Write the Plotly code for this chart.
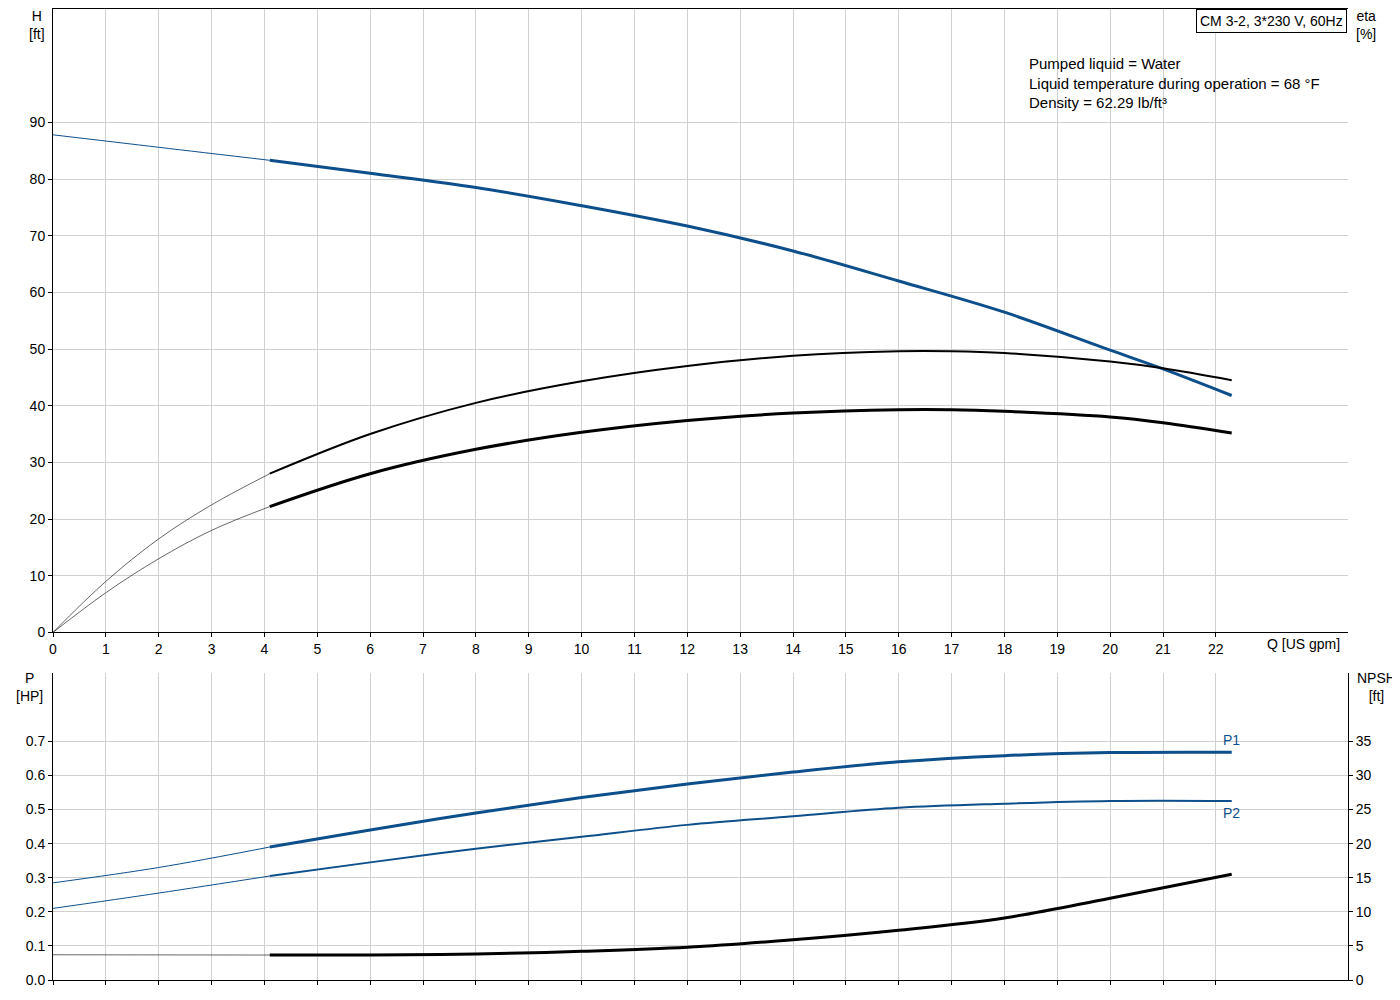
import plotly.graph_objects as go

BLUE = "#0d4f8b"
# Head curve
q_h_thin = [0, 2, 4.1]
h_thin = [87.8, 85.6, 83.3]
q_h = [4.1, 6, 8, 10, 12, 14, 16, 18, 20, 21, 22.3]
h = [83.3, 81.0, 78.5, 75.3, 71.7, 67.3, 62.0, 56.5, 49.8, 46.5, 41.8]
# Efficiency curves
q_e_thin = [0, 1, 2, 3, 4.1]
eta1_thin = [0, 9, 16.5, 22.5, 28]
eta2_thin = [0, 7, 13, 18, 22.2]
q_e = [4.1, 6, 8, 10, 12, 14, 16, 17, 18, 20, 21, 22.3]
eta1 = [28, 35, 40.5, 44.3, 47, 48.8, 49.6, 49.6, 49.3, 47.8, 46.6, 44.5]
eta2 = [22.2, 28, 32.3, 35.3, 37.4, 38.7, 39.3, 39.3, 39.0, 38.0, 37.0, 35.2]
# Power curves
q_p_thin = [0, 2, 4.1]
p1_thin = [0.285, 0.33, 0.39]
p2_thin = [0.21, 0.255, 0.305]
q_p = [4.1, 6, 8, 10, 12, 14, 16, 18, 20, 22.3]
p1 = [0.39, 0.44, 0.49, 0.535, 0.575, 0.61, 0.64, 0.658, 0.667, 0.668]
p2 = [0.305, 0.345, 0.385, 0.42, 0.455, 0.48, 0.505, 0.517, 0.525, 0.525]
# NPSH
q_n_thin = [0, 2, 4.1]
npsh_thin = [3.7, 3.68, 3.66]
q_n = [4.1, 6, 8, 10, 12, 14, 16, 18, 20, 22.3]
npsh = [3.66, 3.66, 3.8, 4.2, 4.8, 5.9, 7.3, 9.1, 12.0, 15.5]

fig = go.Figure()
def add(x, y, color, w, xa, ya):
    fig.add_trace(go.Scatter(x=x, y=y, mode="lines", line=dict(color=color, width=w, shape="spline", smoothing=1.0),
                             xaxis=xa, yaxis=ya, showlegend=False, hoverinfo="skip"))
add(q_h_thin, h_thin, BLUE, 1, "x", "y")
add(q_h, h, BLUE, 3, "x", "y")
add(q_e_thin, eta1_thin, "black", 0.6, "x", "y")
add(q_e, eta1, "black", 2, "x", "y")
add(q_e_thin, eta2_thin, "black", 0.6, "x", "y")
add(q_e, eta2, "black", 3, "x", "y")
add(q_p_thin, p1_thin, BLUE, 1, "x2", "y2")
add(q_p, p1, BLUE, 3, "x2", "y2")
add(q_p_thin, p2_thin, BLUE, 1, "x2", "y2")
add(q_p, p2, BLUE, 2, "x2", "y2")
add(q_n_thin, npsh_thin, "black", 0.6, "x2", "y3")
add(q_n, npsh, "black", 3, "x2", "y3")

ax = dict(showgrid=True, gridcolor="#d0d0d0", gridwidth=1, zeroline=False, showline=True,
          linecolor="black", linewidth=1, ticks="outside", ticklen=4, tickcolor="black",
          automargin=False,
          tickfont=dict(family="Arial, Liberation Sans", size=14, color="black"))
fig.update_layout(
    width=1400, height=1000, plot_bgcolor="white", paper_bgcolor="white",
    margin=dict(l=45, r=60, t=1, b=28, autoexpand=False),
    xaxis=dict(ax, range=[0, 24.5], domain=[0, 1], anchor="y",
               tickvals=list(range(23)), mirror=True),
    yaxis=dict(ax, range=[0, 110], tickvals=list(range(0, 100, 10)), domain=[0.358, 1], anchor="x"),
    yaxis4=dict(ax, range=[0, 110], tickvals=list(range(0, 100, 10)), overlaying="y", side="right",
                anchor="x", showgrid=False),
    xaxis2=dict(ax, range=[0, 24.5], tickvals=list(range(23)), showticklabels=False, domain=[0, 1], anchor="y2"),
    yaxis2=dict(ax, range=[0, 0.9], tickvals=[0, 0.1, 0.2, 0.3, 0.4, 0.5, 0.6, 0.7],
                ticktext=["0.0", "0.1", "0.2", "0.3", "0.4", "0.5", "0.6", "0.7"],
                domain=[0, 0.316], anchor="x2"),
    yaxis3=dict(ax, range=[0, 45], tickvals=list(range(0, 40, 5)), overlaying="y2", side="right",
                anchor="x2", showgrid=False),
)
f = dict(family="Arial, Liberation Sans", size=14, color="black")
fig.update_layout(annotations=[
    dict(x=-0.012, y=1.0, xref="paper", yref="paper", text="H<br>[ft]", showarrow=False, font=f, xanchor="center", yanchor="top", yshift=3),
    dict(x=1.014, y=1.0, xref="paper", yref="paper", text="eta<br>[%]", showarrow=False, font=f, xanchor="center", yanchor="top", yshift=3),
    dict(x=1.0, y=0.358, xref="paper", yref="paper", text="Q [US gpm]", showarrow=False, font=f, xanchor="right", yanchor="top", yshift=-2, xshift=-6),
    dict(x=-0.018, y=0.316, xref="paper", yref="paper", text="P<br>[HP]", showarrow=False, font=f, xanchor="center", yanchor="top", yshift=5),
    dict(x=1.022, y=0.316, xref="paper", yref="paper", text="NPSH<br>[ft]", showarrow=False, font=f, xanchor="center", yanchor="top", yshift=5),
    dict(x=0.999, y=1.0, xref="paper", yref="paper", text="CM 3-2, 3*230 V, 60Hz", showarrow=False, font=f,
         xanchor="right", yanchor="top", bordercolor="black", borderwidth=1, bgcolor="white", borderpad=3),
    dict(x=0.752, y=0.955, xref="paper", yref="paper", align="left",
         text="Pumped liquid = Water<br>Liquid temperature during operation = 68 °F<br>Density = 62.29 lb/ft³",
         showarrow=False, font=dict(f, size=15), xanchor="left", yanchor="top"),
    dict(x=22.3, y=0.668, xref="x2", yref="y2", text="P1", showarrow=False, font=dict(f, color=BLUE), yanchor="bottom", yshift=2),
    dict(x=22.3, y=0.525, xref="x2", yref="y2", text="P2", showarrow=False, font=dict(f, color=BLUE), yanchor="top", yshift=-2),
])
fig.write_html("out.html")
